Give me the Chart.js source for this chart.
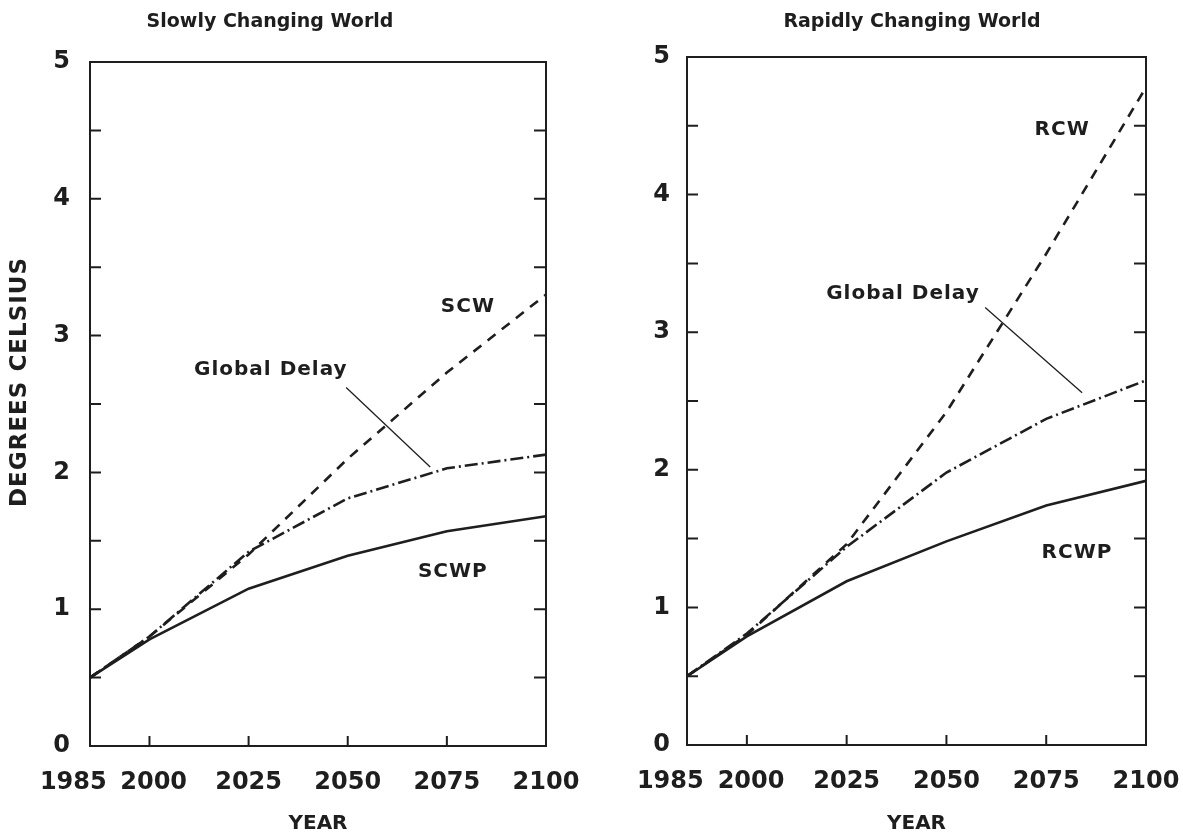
<!DOCTYPE html>
<html>
<head>
<meta charset="utf-8">
<title>Projected warming: slowly vs rapidly changing world</title>
<script src="https://cdn.jsdelivr.net/npm/chart.js@4.4.1/dist/chart.umd.min.js"></script>
<style>
  body { margin: 0; background: #fff; }
  .panel { position: absolute; top: 0; height: 836px; }
  #leftPanel { left: 0; width: 590px; }
  #rightPanel { left: 600px; width: 583px; }
</style>
</head>
<body>
<div class="panel" id="leftPanel"><canvas id="slowChart"></canvas></div>
<div class="panel" id="rightPanel"><canvas id="rapidChart"></canvas></div>
<script>
// Data (degrees Celsius)
const years = [1985, 2000, 2025, 2050, 2075, 2100];
const yearLabels = ["1985", "2000", "2025", "2050", "2075", "2100"];

const scw = [0.5, 0.8, 1.40, 2.10, 2.73, 3.30];
const scwDelay = [0.5, 0.8, 1.42, 1.81, 2.03, 2.13];
const scwp = [0.5, 0.78, 1.15, 1.39, 1.57, 1.68];

const rcw = [0.5, 0.8, 1.46, 2.42, 3.57, 4.78];
const rcwDelay = [0.5, 0.81, 1.44, 1.98, 2.37, 2.65];
const rcwp = [0.5, 0.79, 1.19, 1.48, 1.74, 1.92];

const INK = "#1e1e1e";
const FONT = "DejaVu Sans";

// Draws the box, inward tick marks, titles, labels and leader line
const frameAndNotes = {
  id: "frameAndNotes",
  afterDatasetsDraw(chart, args, opts) {
    const { ctx, chartArea: a } = chart;
    const x = chart.scales.x;
    const y = chart.scales.y;

    ctx.save();
    ctx.strokeStyle = INK;
    ctx.lineWidth = 2;
    ctx.strokeRect(a.left, a.top, a.right - a.left, a.bottom - a.top);

    ctx.beginPath();
    y.ticks.forEach((t) => {
      if (t.value <= 0 || t.value >= 5) return;
      const py = y.getPixelForValue(t.value);
      ctx.moveTo(a.left, py);
      ctx.lineTo(a.left + 11, py);
      ctx.moveTo(a.right - 12, py);
      ctx.lineTo(a.right, py);
    });
    x.ticks.forEach((t) => {
      if (t.value <= years[0] || t.value >= years[years.length - 1]) return;
      const px = x.getPixelForValue(t.value);
      ctx.moveTo(px, a.bottom);
      ctx.lineTo(px, a.bottom - 10);
    });
    ctx.stroke();

    // leader line from "Global Delay" to its curve
    const [p0, p1] = opts.leader;
    ctx.lineWidth = 1.3;
    ctx.beginPath();
    ctx.moveTo(x.getPixelForValue(p0[0]), y.getPixelForValue(p0[1]));
    ctx.lineTo(x.getPixelForValue(p1[0]), y.getPixelForValue(p1[1]));
    ctx.stroke();

    ctx.fillStyle = INK;
    ctx.textAlign = "center";
    ctx.textBaseline = "middle";
    ctx.font = `bold 20px "${FONT}"`;
    ctx.letterSpacing = "1px";
    opts.notes.forEach((n) => {
      ctx.fillText(n.text, x.getPixelForValue(n.at[0]), y.getPixelForValue(n.at[1]));
    });

    ctx.letterSpacing = "0px";
    ctx.font = `bold 19px "${FONT}"`;
    ctx.fillText(opts.title, opts.titleX, 22);

    if (opts.yTitle) {
      ctx.translate(20, 382);
      ctx.rotate(-Math.PI / 2);
      ctx.letterSpacing = "1px";
      ctx.font = `bold 23px "${FONT}"`;
      ctx.fillText(opts.yTitle, 0, 0);
    }
    ctx.restore();
  },
};

function series(values, dash) {
  return {
    data: years.map((yr, i) => ({ x: yr, y: values[i] })),
    borderColor: INK,
    borderWidth: 2.6,
    borderDash: dash,
    pointRadius: 0,
    tension: 0,
    fill: false,
  };
}

function makePanel(canvasId, setup) {
  const tickFont = { family: FONT, size: 24, weight: "bold" };
  return new Chart(document.getElementById(canvasId), {
    type: "line",
    data: {
      datasets: [
        series(setup.noPolicy, [10, 8]),
        series(setup.delay, [13, 4, 2, 4]),
        series(setup.policy, []),
      ],
    },
    options: {
      responsive: true,
      maintainAspectRatio: false,
      animation: false,
      layout: { padding: { top: setup.top, right: setup.right, left: 0, bottom: 0 } },
      scales: {
        x: {
          type: "linear",
          min: years[0],
          max: years[years.length - 1],
          afterBuildTicks: (s) => {
            s.ticks = years.map((v) => ({ value: v }));
          },
          afterFit: (s) => {
            s.height = setup.xAxisHeight;
            // keep the end labels from shrinking the plot box
            s.paddingLeft = 0;
            s.paddingRight = 0;
          },
          grid: { display: false, drawTicks: false },
          border: { display: false },
          ticks: {
            autoSkip: false,
            maxRotation: 0,
            padding: 22,
            color: INK,
            font: tickFont,
            callback: (v) => {
              const label = yearLabels[years.indexOf(v)];
              // spread the crowded first two labels apart
              if (v === 1985) return label + "    ";
              if (v === 2000) return " " + label;
              return label;
            },
          },
          title: {
            display: true,
            text: "YEAR",
            color: INK,
            font: { family: FONT, size: 20, weight: "bold" },
            padding: { top: 0, bottom: 0 },
          },
        },
        y: {
          min: 0,
          max: 5,
          afterFit: (s) => {
            s.width = setup.yAxisWidth;
          },
          grid: { display: false, drawTicks: false },
          border: { display: false },
          ticks: {
            stepSize: 0.5,
            autoSkip: false,
            padding: setup.yPad,
            color: INK,
            font: tickFont,
            callback: (v) => (Number.isInteger(v) ? String(v) : ""),
          },
        },
      },
      plugins: {
        legend: { display: false },
        tooltip: { enabled: false },
        frameAndNotes: {
          title: setup.title,
          titleX: setup.titleX,
          yTitle: setup.yTitle,
          notes: setup.notes,
          leader: setup.leader,
        },
      },
    },
    plugins: [frameAndNotes],
  });
}

makePanel("slowChart", {
  noPolicy: scw,
  delay: scwDelay,
  policy: scwp,
  title: "Slowly Changing World",
  titleX: 270,
  yTitle: "DEGREES CELSIUS",
  top: 62,
  right: 44,
  yAxisWidth: 90,
  xAxisHeight: 90,
  yPad: 20,
  notes: [
    { text: "SCW", at: [2080.3, 3.21] },
    { text: "Global Delay", at: [2030.6, 2.75] },
    { text: "SCWP", at: [2076.5, 1.27] },
  ],
  leader: [[2049.6, 2.62], [2070.8, 2.04]],
});

makePanel("rapidChart", {
  noPolicy: rcw,
  delay: rcwDelay,
  policy: rcwp,
  title: "Rapidly Changing World",
  titleX: 312,
  yTitle: null,
  top: 57,
  right: 37,
  yAxisWidth: 87,
  xAxisHeight: 91,
  yPad: 17,
  notes: [
    { text: "RCW", at: [2079, 4.47] },
    { text: "Global Delay", at: [2039.1, 3.28] },
    { text: "RCWP", at: [2082.7, 1.40] },
  ],
  leader: [[2059.7, 3.18], [2084, 2.56]],
});
</script>
</body>
</html>
